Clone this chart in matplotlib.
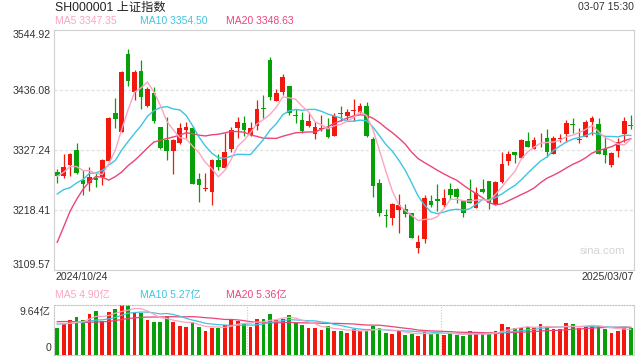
import numpy as np
import pandas as pd
import matplotlib
matplotlib.use('Agg')
import matplotlib.pyplot as plt

plt.rcParams['font.family'] = ['Liberation Sans', 'Noto Sans CJK SC', 'DejaVu Sans']

# daily k-line 2024/10/24 .. 2025/03/07
opens = [3287.9, 3280.6, 3300.6, 3327.2, 3272.8, 3268.0, 3277.0, 3278.8, 3307.9, 3394.3,
         3360.5, 3501.4, 3433.0, 3470.5, 3407.0, 3430.0, 3368.3, 3345.3, 3326.0, 3339.3,
         3363.5, 3367.1, 3274.0, 3256.5, 3251.6, 3309.1, 3295.2, 3329.0, 3367.1, 3375.6,
         3353.8, 3371.4, 3404.0, 3490.5, 3416.7, 3433.0, 3443.3, 3390.1, 3381.6, 3370.7,
         3356.8, 3365.3, 3367.7, 3352.6, 3394.3, 3388.9, 3398.6, 3396.7, 3407.0, 3347.2,
         3266.7, 3209.3, 3204.5, 3218.4, 3219.6, 3212.3, 3150.0, 3165.8, 3234.1, 3237.7,
         3227.4, 3256.5, 3256.5, 3234.7, 3237.7, 3222.6, 3256.5, 3271.0, 3229.2, 3269.2,
         3307.3, 3323.0, 3313.3, 3343.5, 3329.6, 3355.6, 3349.0, 3320.6, 3347.8, 3356.2,
         3374.4, 3346.0, 3351.4, 3378.6, 3373.8, 3329.6, 3300.0, 3326.0, 3355.6, 3372.6]
highs = [3292.1, 3320.0, 3322.4, 3340.5, 3290.9, 3297.0, 3287.9, 3310.3, 3386.5, 3420.9,
         3470.5, 3510.4, 3471.7, 3490.5, 3442.1, 3440.9, 3369.5, 3386.5, 3347.8, 3375.6,
         3378.6, 3370.7, 3284.9, 3284.9, 3310.3, 3319.3, 3358.7, 3369.5, 3386.5, 3388.9,
         3377.4, 3417.9, 3426.4, 3495.3, 3437.9, 3464.5, 3444.0, 3401.0, 3396.7, 3396.7,
         3378.6, 3390.7, 3385.9, 3393.7, 3407.0, 3401.0, 3419.1, 3411.9, 3414.9, 3350.2,
         3274.0, 3219.6, 3230.5, 3247.4, 3229.2, 3213.5, 3172.4, 3245.6, 3245.6, 3264.9,
         3255.9, 3267.9, 3257.7, 3236.5, 3274.0, 3259.5, 3274.6, 3271.0, 3270.4, 3324.2,
         3326.0, 3324.2, 3346.6, 3359.9, 3350.2, 3357.4, 3365.9, 3352.6, 3356.2, 3381.6,
         3384.7, 3366.5, 3381.6, 3389.5, 3384.7, 3350.2, 3323.6, 3348.4, 3387.7, 3390.7]
lows = [3267.9, 3277.0, 3280.0, 3283.7, 3245.6, 3252.8, 3259.5, 3263.7, 3304.9, 3366.5,
        3359.3, 3443.3, 3417.3, 3402.2, 3404.6, 3376.8, 3329.0, 3309.1, 3283.7, 3337.5,
        3348.4, 3265.0, 3233.5, 3253.4, 3228.0, 3290.9, 3294.0, 3324.2, 3348.4, 3352.6,
        3352.6, 3363.5, 3384.7, 3417.9, 3416.1, 3427.0, 3391.3, 3376.8, 3357.4, 3369.5,
        3346.6, 3362.3, 3348.4, 3352.0, 3380.4, 3381.6, 3380.4, 3393.7, 3351.4, 3242.5,
        3207.5, 3186.9, 3190.5, 3176.0, 3206.3, 3167.6, 3141.0, 3159.1, 3223.2, 3217.2,
        3224.4, 3238.9, 3230.5, 3205.1, 3230.5, 3221.4, 3249.8, 3220.8, 3227.4, 3266.7,
        3300.0, 3304.2, 3312.1, 3332.1, 3328.4, 3333.3, 3315.1, 3320.0, 3342.3, 3342.3,
        3357.4, 3339.3, 3350.8, 3354.4, 3319.4, 3303.0, 3297.0, 3313.9, 3342.3, 3364.7]
closes = [3280.6, 3297.0, 3320.0, 3286.1, 3266.1, 3278.8, 3273.4, 3309.1, 3385.9, 3384.1,
          3469.3, 3452.4, 3469.3, 3424.0, 3437.3, 3380.4, 3330.2, 3326.0, 3345.3, 3366.5,
          3368.9, 3265.5, 3264.3, 3257.7, 3309.1, 3297.0, 3323.6, 3363.5, 3378.0, 3363.5,
          3367.1, 3401.6, 3402.2, 3424.0, 3430.0, 3459.6, 3393.7, 3388.3, 3361.7, 3379.8,
          3368.3, 3367.1, 3351.4, 3389.5, 3393.1, 3396.7, 3399.8, 3407.0, 3352.6, 3262.5,
          3212.3, 3207.5, 3229.2, 3226.8, 3211.1, 3168.2, 3160.3, 3240.7, 3227.4, 3235.3,
          3239.5, 3245.6, 3242.6, 3213.5, 3231.7, 3248.6, 3251.0, 3231.7, 3269.2, 3301.8,
          3320.0, 3318.1, 3345.3, 3333.3, 3345.3, 3356.8, 3324.2, 3349.6, 3349.0, 3376.2,
          3372.6, 3347.2, 3377.4, 3385.9, 3320.0, 3318.1, 3322.4, 3342.3, 3379.8, 3370.7]
# volume, 亿
volumes = [5.22, 5.92, 6.68, 7.25, 6.68, 7.89, 8.40, 6.55, 8.21, 8.78,
           9.61, 9.64, 8.08, 8.08, 6.68, 6.36, 6.36, 7.44, 6.36, 5.60,
           5.41, 6.24, 5.41, 4.65, 5.22, 5.22, 5.73, 6.68, 6.49, 6.04,
           5.41, 6.87, 6.87, 7.89, 6.68, 6.87, 7.64, 6.17, 5.73, 5.22,
           5.22, 4.77, 5.54, 4.58, 4.58, 4.26, 4.96, 4.58, 4.64, 5.54,
           5.09, 4.26, 4.07, 4.58, 3.88, 4.07, 3.69, 4.45, 4.07, 4.45,
           3.88, 4.07, 3.82, 3.63, 4.58, 3.95, 3.95, 4.07, 4.58, 5.92,
           5.35, 5.09, 5.22, 5.41, 5.28, 5.92, 5.41, 4.96, 4.96, 6.17,
           5.92, 5.09, 5.41, 5.73, 5.60, 4.96, 4.26, 4.58, 5.41, 5.22]

# days before the window, only to seed the moving averages
seed_closes = [2736.8, 2748.9, 2863.1, 2896.3, 3001.0, 3087.5, 3336.5, 3489.8, 3258.9, 3301.9,
               3217.7, 3284.3, 3201.3, 3203.0, 3169.4, 3261.6, 3268.1, 3285.9, 3302.8]
seed_volumes = [5.5, 6.5, 8.5, 9.0, 7.5, 7.0, 6.0, 6.5, 5.5, 6.0,
                5.6, 5.9, 5.8, 5.7, 6.0, 6.4, 6.1, 6.3, 6.2]

price_ticks = [3109.57, 3218.41, 3327.24, 3436.08, 3544.92]
vol_max = 9.64
start_label = '2024/10/24'
end_label = '2025/03/07'

RED = '#f2180e'
GREEN = '#08a008'
C5, C10, C20 = '#fba4c2', '#3fc4e1', '#ec4479'
TXT = '#333333'

n = len(closes)
x = np.arange(n)
o = np.array(opens); c = np.array(closes); h = np.array(highs); l = np.array(lows)
up = c >= o
cols = np.where(up, RED, GREEN)

cs = pd.Series(seed_closes + closes)
vs = pd.Series(seed_volumes + volumes)
k = len(seed_closes)
ma = {p: cs.rolling(p).mean().values[k:] for p in (5, 10, 20)}
vma = {p: vs.rolling(p).mean().values[k:] for p in (5, 10, 20)}

fig = plt.figure(figsize=(6.4, 3.6), dpi=100)

def fx(px):
    return px / 640

def fy(py):
    return 1 - py / 360

ax = fig.add_axes([fx(54), fy(270), fx(580), 240 / 360])
axv = fig.add_axes([fx(54), fy(355), fx(580), 50.5 / 360])

# candles
ax.vlines(x, l, h, colors=cols, lw=0.9, zorder=2)
body_h = np.maximum(np.abs(c - o), 1.3)
ax.bar(x, body_h, bottom=np.minimum(o, c), width=0.72, color=cols, lw=0, zorder=3)
ax.plot(x, ma[20], color=C20, lw=1.0, zorder=4)
ax.plot(x, ma[10], color=C10, lw=1.0, zorder=4)
ax.plot(x, ma[5], color=C5, lw=1.0, zorder=4)

ax.set_xlim(-0.5, n - 0.5)
ax.set_ylim(price_ticks[0], price_ticks[-1])
for t in price_ticks[1:-1]:
    ax.axhline(t, color='#e2e2e2', lw=1.0, ls=(0, (2.2, 1.6)), zorder=1)
ax.set_xticks([])
ax.set_yticks(price_ticks)
ax.set_yticklabels(['%.2f' % t for t in price_ticks], fontsize=7.6, color=TXT)
ax.tick_params(axis='y', length=0, pad=2.5)
labs = ax.get_yticklabels()
labs[0].set_va('bottom')
labs[-1].set_va('top')
for s in ax.spines.values():
    s.set_color('#d0d0d0')
    s.set_linewidth(0.8)
ax.text(0.985, 0.08, 'sina.com', transform=ax.transAxes, ha='right', va='center',
        fontsize=8.2, color='#d4d4d4')

# volume
axv.bar(x, volumes, width=0.6, color=cols, lw=0, zorder=2)
axv.plot(x, vma[20], color=C20, lw=0.9, zorder=3)
axv.plot(x, vma[10], color=C10, lw=0.9, zorder=3)
axv.plot(x, vma[5], color=C5, lw=0.9, zorder=3)
axv.set_xlim(-0.5, n - 0.5)
axv.set_ylim(0, vol_max)
axv.set_xticks([])
axv.set_yticks([])
for xv in (n / 3 - 0.5, 2 * n / 3 - 0.5):
    axv.axvline(xv, color='#c8c8c8', lw=0.8, ls=(0, (1, 1.5)), zorder=1)
for side in ('left', 'top', 'bottom'):
    axv.spines[side].set_color('#c4c4c4')
    axv.spines[side].set_linestyle((0, (1, 1.5)))
    axv.spines[side].set_linewidth(0.8)
axv.spines['right'].set_color('#d0d0d0')
axv.spines['right'].set_linewidth(0.8)

# texts
fig.text(fx(55), fy(8), 'SH000001 上证指数', fontsize=8.8, color='#222222', va='center')
fig.text(fx(634), fy(7), '03-07 15:30', fontsize=7.6, color=TXT, ha='right', va='center')
fig.text(fx(55), fy(21), 'MA5 3347.35', fontsize=7.5, color=C5, va='center')
fig.text(fx(140.5), fy(21), 'MA10 3354.50', fontsize=7.5, color=C10, va='center')
fig.text(fx(225.5), fy(21), 'MA20 3348.63', fontsize=7.5, color=C20, va='center')
fig.text(fx(55), fy(277.5), start_label, fontsize=7.6, color=TXT, va='center')
fig.text(fx(634), fy(277.5), end_label, fontsize=7.6, color=TXT, ha='right', va='center')
fig.text(fx(55), fy(295), 'MA5 4.90亿', fontsize=7.5, color=C5, va='center')
fig.text(fx(140.5), fy(295), 'MA10 5.27亿', fontsize=7.5, color=C10, va='center')
fig.text(fx(225.5), fy(295), 'MA20 5.36亿', fontsize=7.5, color=C20, va='center')
fig.text(fx(51), fy(312), '%.2f亿' % vol_max, fontsize=7.6, color=TXT, ha='right', va='center')
fig.text(fx(51), fy(348), '0', fontsize=7.6, color=TXT, ha='right', va='center')

fig.savefig('out.png', dpi=100)
